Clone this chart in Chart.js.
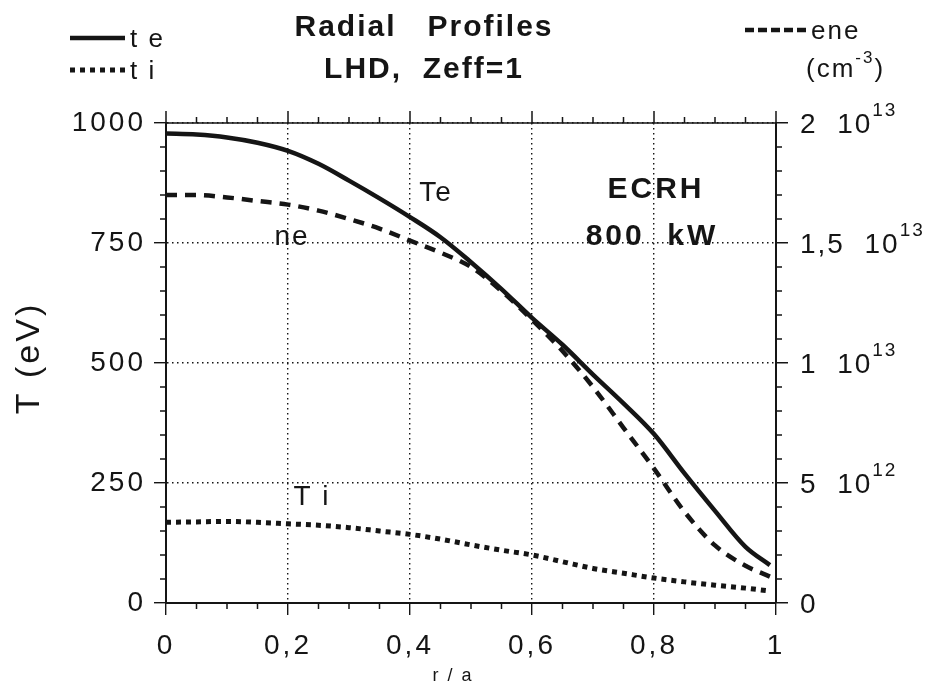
<!DOCTYPE html>
<html>
<head>
<meta charset="utf-8">
<script src="https://cdn.jsdelivr.net/npm/chart.js@4"></script>
<style>
  html, body { margin: 0; padding: 0; background: #fff; }
  #wrap { width: 936px; height: 688px; position: relative; }
</style>
</head>
<body>
<div id="wrap"><canvas id="c"></canvas></div>
<script>
// r/a positions shared by all three profiles
const rPos = [0, 0.05, 0.1, 0.15, 0.2, 0.25, 0.3, 0.35, 0.4, 0.45, 0.5, 0.55, 0.6, 0.65, 0.7, 0.75, 0.8, 0.85, 0.9, 0.95, 0.99];
// electron temperature (eV)
const teVals = [978, 976, 970, 959, 942, 915, 880, 843, 804, 762, 710, 654, 594, 538, 476, 416, 352, 270, 192, 117, 79];
// ion temperature (eV)
const tiVals = [168, 169, 170, 168, 165, 162, 157, 150, 143, 133, 121, 110, 100, 86, 72, 62, 52, 44, 37, 31, 25];
// electron density, in units of 1e13 cm^-3
const neVals = [1.70, 1.70, 1.69, 1.675, 1.66, 1.635, 1.60, 1.56, 1.51, 1.46, 1.40, 1.30, 1.18, 1.05, 0.90, 0.73, 0.56, 0.38, 0.24, 0.155, 0.11];

// tick labels
const xTickLabels = ['0', '0,2', '0,4', '0,6', '0,8', '1'];
const yTickLabels = ['0', '250', '500', '750', '1000'];
const neTickBase = ['0', '5  10', '1  10', '1,5  10', '2  10'];
const neTickExp = ['', '12', '13', '13', '13'];

const FONT = '"Liberation Sans", Arial, Helvetica, sans-serif';
const INK = '#151515';

function pts(vals) { return rPos.map((r, i) => ({ x: r, y: vals[i] })); }

// minor ticks, top frame, right labels, legend, titles and in-plot notes
const decor = {
    id: 'decor',
    beforeDraw(chart) { chart.ctx.letterSpacing = '3px'; },
    afterDraw(chart) {
        const { ctx, chartArea: a, scales } = chart;
        const x = scales.x, y = scales.y, y1 = scales.y1;
        ctx.save();
        ctx.strokeStyle = INK;
        ctx.fillStyle = INK;
        ctx.lineWidth = 1.5;
        ctx.setLineDash([]);

        // top frame line
        ctx.beginPath();
        ctx.moveTo(a.left, a.top); ctx.lineTo(a.right, a.top);
        ctx.stroke();

        ctx.beginPath();
        // x ticks: major on top, minor top + bottom
        for (let i = 0; i <= 20; i++) {
            const px = x.getPixelForValue(i * 0.05);
            const major = i % 4 === 0;
            if (major) {
                ctx.moveTo(px, a.top); ctx.lineTo(px, a.top - 12);
            } else {
                ctx.moveTo(px, a.top); ctx.lineTo(px, a.top - 6);
                ctx.moveTo(px, a.bottom); ctx.lineTo(px, a.bottom + 6);
            }
        }
        // y minor ticks left and right, every 50 eV
        for (let v = 50; v < 1000; v += 50) {
            if (v % 250 === 0) continue;
            const py = y.getPixelForValue(v);
            ctx.moveTo(a.left, py); ctx.lineTo(a.left - 6, py);
            ctx.moveTo(a.right, py); ctx.lineTo(a.right + 6, py);
        }
        ctx.stroke();

        // right axis labels with superscript exponents
        ctx.letterSpacing = '2px';
        ctx.textAlign = 'left';
        ctx.textBaseline = 'middle';
        y1.ticks.forEach((t, i) => {
            const py = y1.getPixelForValue(t.value);
            const lx = a.right + 24;
            ctx.font = '28px ' + FONT;
            ctx.fillText(neTickBase[i], lx, py + 2);
            if (neTickExp[i]) {
                const w = ctx.measureText(neTickBase[i]).width;
                ctx.font = '19px ' + FONT;
                ctx.fillText(neTickExp[i], lx + w, py - 12);
            }
        });

        // axis titles
        ctx.font = '34px ' + FONT;
        ctx.letterSpacing = '3px';
        ctx.textAlign = 'center';
        ctx.save();
        ctx.translate(30, 358);
        ctx.rotate(-Math.PI / 2);
        ctx.fillText('T (eV)', 0, 0);
        ctx.restore();
        ctx.font = '18px ' + FONT;
        ctx.letterSpacing = '2px';
        ctx.fillText('r / a', 453, 676);

        // titles
        ctx.font = 'bold 30px ' + FONT;
        ctx.letterSpacing = '2px';
        ctx.fillText('Radial   Profiles', 424, 28);
        ctx.fillText('LHD,  Zeff=1', 424, 70);

        // in-plot labels
        ctx.font = '28px ' + FONT;
        ctx.fillText('Te', 436, 193);
        ctx.fillText('ne', 292, 237);
        ctx.fillText('T i', 312, 497);
        ctx.font = 'bold 30px ' + FONT;
        ctx.letterSpacing = '3px';
        ctx.fillText('ECRH', 656, 190);
        ctx.fillText('800  kW', 652, 237);

        // legend samples
        ctx.lineWidth = 4.5;
        ctx.beginPath();
        ctx.moveTo(70, 38); ctx.lineTo(125, 38);
        ctx.stroke();
        ctx.setLineDash([5, 5]);
        ctx.lineWidth = 5;
        ctx.beginPath();
        ctx.moveTo(70, 70); ctx.lineTo(125, 70);
        ctx.stroke();
        ctx.setLineDash([9, 4]);
        ctx.lineWidth = 4.5;
        ctx.beginPath();
        ctx.moveTo(745, 30); ctx.lineTo(808, 30);
        ctx.stroke();
        ctx.setLineDash([]);

        ctx.font = '26px ' + FONT;
        ctx.letterSpacing = '2px';
        ctx.textAlign = 'left';
        ctx.fillText('t e', 130, 40);
        ctx.fillText('t i', 130, 72);
        ctx.fillText('ene', 811, 32);
        ctx.fillText('(cm', 806, 70);
        const w = ctx.measureText('(cm').width;
        ctx.font = '17px ' + FONT;
        ctx.fillText('-3', 806 + w, 58);
        const w2 = ctx.measureText('-3').width;
        ctx.font = '26px ' + FONT;
        ctx.fillText(')', 806 + w + w2, 70);

        ctx.restore();
        ctx.letterSpacing = '0px';
    }
};

new Chart(document.getElementById('c'), {
    type: 'line',
    data: {
        datasets: [
            { label: 'te', data: pts(teVals), yAxisID: 'y', borderColor: INK, borderWidth: 4.5,
              cubicInterpolationMode: 'monotone' },
            { label: 'ti', data: pts(tiVals), yAxisID: 'y', borderColor: INK, borderWidth: 5,
              borderDash: [5, 5], cubicInterpolationMode: 'monotone' },
            { label: 'ene', data: pts(neVals), yAxisID: 'y1', borderColor: INK, borderWidth: 4.5,
              borderDash: [11, 8], cubicInterpolationMode: 'monotone' },
        ],
    },
    options: {
        responsive: true,
        maintainAspectRatio: false,
        animation: false,
        elements: { point: { radius: 0 } },
        layout: { padding: { top: 123, left: 0, right: 0, bottom: 0 } },
        plugins: { legend: { display: false }, title: { display: false }, tooltip: { enabled: false } },
        scales: {
            x: {
                type: 'linear', min: 0, max: 1,
                afterFit: s => { s.height = 85; },
                ticks: {
                    stepSize: 0.2, color: INK, padding: 14,
                    font: { family: FONT, size: 28 },
                    callback: (v, i) => xTickLabels[i],
                    maxRotation: 0,
                },
                grid: { color: INK, lineWidth: 1.4, tickLength: 12, tickBorderDash: [] },
                border: { color: INK, width: 2, dash: [1.5, 3.5] },
            },
            y: {
                position: 'left', min: 0, max: 1000,
                afterFit: s => { s.width = 166; },
                ticks: {
                    stepSize: 250, color: INK, padding: 8, font: { family: FONT, size: 28 },
                    callback: (v, i) => yTickLabels[i],
                },
                grid: { color: INK, lineWidth: 1.4, tickLength: 12, tickBorderDash: [] },
                border: { color: INK, width: 2, dash: [1.5, 3.5] },
            },
            y1: {
                position: 'right', min: 0, max: 2,
                afterFit: s => { s.width = 160; },
                ticks: { stepSize: 0.5, display: false },
                grid: { drawOnChartArea: false, color: INK, lineWidth: 1.5, tickLength: 12 },
                border: { color: INK, width: 2 },
            },
        },
    },
    plugins: [decor],
});
</script>
</body>
</html>
